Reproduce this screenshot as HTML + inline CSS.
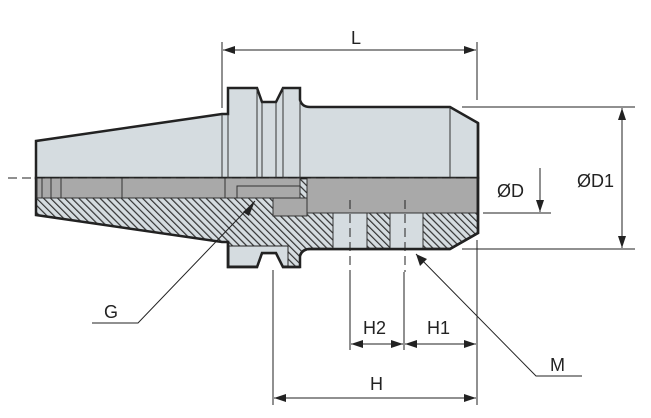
<!DOCTYPE html>
<html><head><meta charset="utf-8"><style>
html,body{margin:0;padding:0;background:#fff;}
svg{display:block;}
text{font-family:"Liberation Sans",sans-serif;font-size:18px;fill:#222;}
</style></head><body>
<svg width="651" height="418" viewBox="0 0 651 418" xmlns="http://www.w3.org/2000/svg">
<defs>
<pattern id="h" width="5" height="5" patternUnits="userSpaceOnUse" patternTransform="rotate(-45)">
<rect width="5" height="5" fill="#d5dce0"/>
<line x1="0.6" y1="0" x2="0.6" y2="5" stroke="#333" stroke-width="1.2"/>
</pattern>
<marker id="a" markerWidth="12" markerHeight="8" refX="12" refY="4" orient="auto-start-reverse" markerUnits="userSpaceOnUse">
<path d="M0,0 L12,4 L0,8 Z" fill="#222"/>
</marker>
</defs>
<path d="M36,178 L36,215 L222,242 L228,242 L228,267 L257,267 L262,253 L276,253 L283,267 L300,267 L300,256 Q302,249 310,249 L450,249 L478,233 L478,178 Z" fill="url(#h)" stroke="#222" stroke-width="2.5"/>
<path d="M229,246 L288,246 L288,266 L283,266 L276,253 L262,253 L257,266 L229,266 Z" fill="#d5dce0" stroke="#222" stroke-width="1"/>
<path d="M228,242 L228,267 L257,267 L262,253 L276,253 L283,267 L300,267" fill="none" stroke="#222" stroke-width="2.5"/>
<path d="M36,178 L36,141 L222,114 L228,114 L228,88 L257,88 L262,102 L276,102 L283,88 L300,88 L300,100 Q302,107 310,107 L450,107 L478,123 L478,178 Z" fill="#d5dce0" stroke="#222" stroke-width="2.5"/>
<g stroke="#333" stroke-width="1" fill="none">
<line x1="222" y1="114" x2="222" y2="178"/><line x1="228" y1="114" x2="228" y2="178"/>
<line x1="257" y1="88" x2="257" y2="178"/><line x1="262" y1="102" x2="262" y2="178"/>
<line x1="276" y1="102" x2="276" y2="178"/><line x1="283" y1="88" x2="283" y2="178"/>
<line x1="300" y1="100" x2="300" y2="178"/><line x1="450" y1="107" x2="450" y2="178"/>
</g>
<g fill="#a9a9a9" stroke="#333" stroke-width="1">
<rect x="37" y="178" width="188" height="20"/>
<rect x="225" y="178" width="75" height="20"/>
<rect x="273" y="198" width="34" height="18"/>
<rect x="307" y="178" width="170" height="35"/>
<line x1="42" y1="178" x2="42" y2="198"/><line x1="51" y1="178" x2="51" y2="198"/><line x1="61" y1="178" x2="61" y2="198"/><line x1="122" y1="178" x2="122" y2="198"/>
<path d="M237,198 L237,186 L300,186" fill="none"/>
</g>
<g fill="#d5dce0" stroke="#333" stroke-width="1">
<rect x="333" y="213" width="34" height="36"/><rect x="390" y="213" width="33" height="36"/>
</g>
<path d="M300,256 Q302,249 310,249 L450,249 L478,233 L478,123" fill="none" stroke="#222" stroke-width="2.5"/>
<g stroke="#222" stroke-width="1" stroke-dasharray="9,5" fill="none">
<line x1="8" y1="178" x2="478" y2="178"/>
<line x1="350" y1="200" x2="350" y2="272"/><line x1="405" y1="200" x2="405" y2="272"/>
</g>
<g stroke="#222" stroke-width="1" fill="none">
<line x1="222" y1="42" x2="222" y2="108"/><line x1="477" y1="42" x2="477" y2="100"/>
<line x1="223" y1="50" x2="476" y2="50" marker-start="url(#a)" marker-end="url(#a)"/>
<line x1="462" y1="107" x2="635" y2="107"/><line x1="462" y1="249" x2="635" y2="249"/>
<line x1="622" y1="108" x2="622" y2="248" marker-start="url(#a)" marker-end="url(#a)"/>
<line x1="483" y1="213" x2="551" y2="213"/>
<line x1="540" y1="168" x2="540" y2="212" marker-end="url(#a)"/>
<line x1="477" y1="240" x2="477" y2="405"/>
<line x1="350" y1="272" x2="350" y2="350"/><line x1="404" y1="272" x2="404" y2="350"/>
<line x1="351" y1="344" x2="403" y2="344" marker-start="url(#a)" marker-end="url(#a)"/>
<line x1="405" y1="344" x2="476" y2="344" marker-start="url(#a)" marker-end="url(#a)"/>
<line x1="273" y1="270" x2="273" y2="405"/>
<line x1="274" y1="398" x2="476" y2="398" marker-start="url(#a)" marker-end="url(#a)"/>
<polyline points="92,323 138,323 255,201"/>
<polyline points="582,376 536,376 416,254"/>
</g>
<path d="M255,201 L243,212 L249,216 Z" fill="#222"/>
<path d="M416,254 L420,266 L427,259 Z" fill="#222"/>
<text x="351" y="44">L</text>
<text x="497" y="197">ØD</text>
<text x="577" y="187">ØD1</text>
<text x="363" y="334">H2</text>
<text x="427" y="334">H1</text>
<text x="370" y="390">H</text>
<text x="104" y="318">G</text>
<text x="550" y="371">M</text>
</svg>
</body></html>
